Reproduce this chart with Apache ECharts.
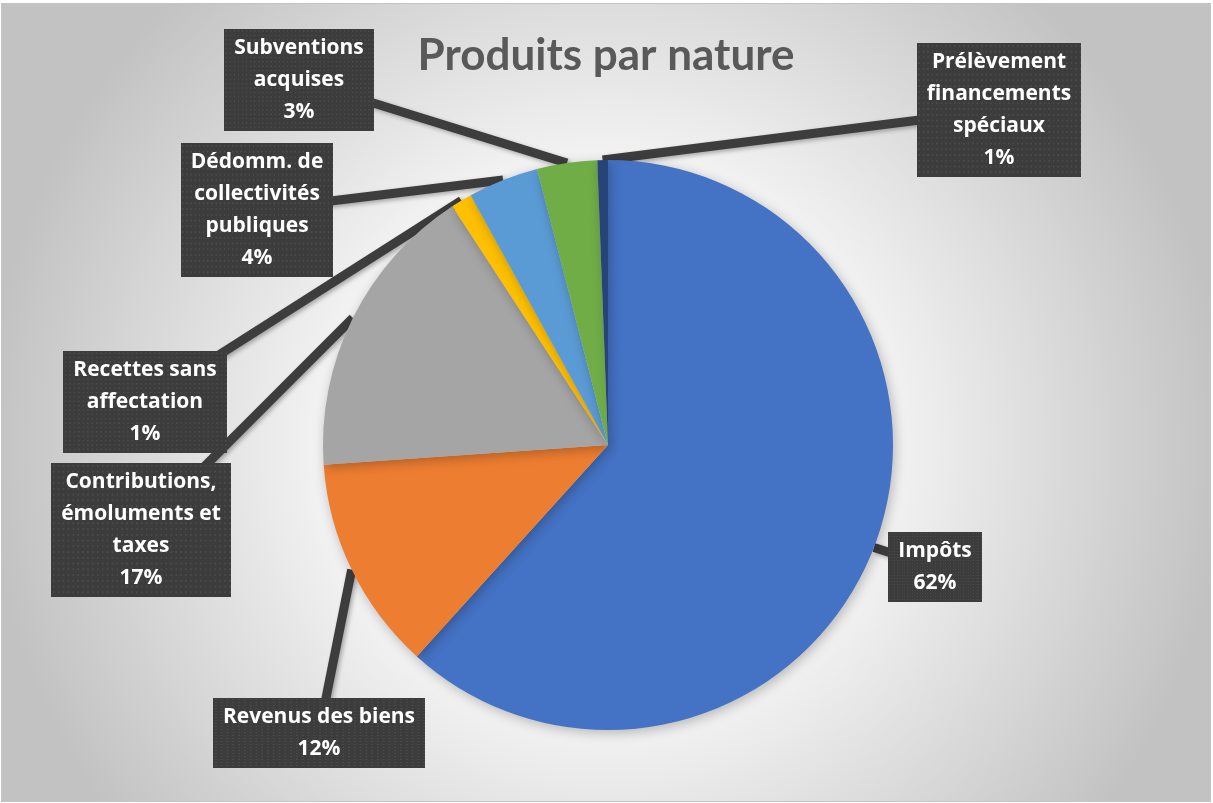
<!DOCTYPE html>
<html>
<head>
<meta charset="utf-8">
<script src="https://cdn.jsdelivr.net/npm/echarts@6/dist/echarts.min.js"></script>
<style>
  html, body { margin: 0; padding: 0; background: #ffffff; }
  #frame { position: absolute; left: 1px; top: 3px; width: 1208px; height: 797px; border: 1px solid #c4c4c4; }
  #chart { width: 1208px; height: 797px; }
</style>
</head>
<body>
<div id="frame"><div id="chart"></div></div>
<script>
// Revenue breakdown by nature (share of total, %)
const categories = [
  'Impôts',
  'Revenus des biens',
  'Contributions,\némoluments et\ntaxes',
  'Recettes sans\naffectation',
  'Dédomm. de\ncollectivités\npubliques',
  'Subventions\nacquises',
  'Prélèvement\nfinancements\nspéciaux'
];
const shares = [61.7, 12.2, 16.9, 1.2, 4.0, 3.4, 0.6];
const colors = ['#4472C4', '#ED7D31', '#A5A5A5', '#FFC000', '#5B9BD5', '#70AD47', '#264478'];

// Callout box centres (chart pixels)
const calloutCenters = [
  [933, 563],
  [317, 729],
  [139, 526],
  [143, 398],
  [255, 206],
  [297, 76],
  [997, 106]
];

const total = shares.reduce((a, b) => a + b, 0);

// Dark dotted fill used behind the callout text
function dottedTile() {
  const cv = document.createElement('canvas');
  cv.width = 220; cv.height = 140;
  const ctx = cv.getContext('2d');
  ctx.fillStyle = '#3c3c3c';
  ctx.fillRect(0, 0, cv.width, cv.height);
  ctx.fillStyle = '#4b4b4b';
  for (let y = 2; y < cv.height; y += 6) {
    for (let x = 2; x < cv.width; x += 6) {
      ctx.fillRect(x, y, 2, 2);
    }
  }
  return cv;
}
const boxFill = { image: dottedTile() };

const chart = echarts.init(document.getElementById('chart'), null, { renderer: 'canvas' });

chart.setOption({
  backgroundColor: {
    type: 'radial', x: 0.5, y: 0.55, r: 0.78,
    colorStops: [
      { offset: 0, color: '#ffffff' },
      { offset: 0.45, color: '#f3f3f3' },
      { offset: 1, color: '#c2c2c2' }
    ]
  },
  animation: false,
  title: {
    text: 'Produits par nature',
    left: 'center',
    top: 25,
    textStyle: { fontFamily: 'Lato', fontWeight: 'bold', fontSize: 44, color: '#595959' }
  },
  series: [{
    type: 'pie',
    center: [606, 441],
    radius: 285,
    startAngle: 90,
    clockwise: true,
    avoidLabelOverlap: false,
    silent: true,
    data: categories.map((name, i) => ({ name, value: shares[i], itemStyle: { color: colors[i] } })),
    itemStyle: {
      shadowBlur: 12,
      shadowColor: 'rgba(0,0,0,0.25)',
      shadowOffsetX: 2,
      shadowOffsetY: 3
    },
    label: {
      show: true,
      position: 'outside',
      formatter: p => p.name + '\n' + Math.round(p.value / total * 100) + '%',
      fontFamily: 'Open Sans',
      fontWeight: 'bold',
      fontSize: 21,
      lineHeight: 32,
      color: '#ffffff',
      align: 'center',
      backgroundColor: boxFill,
      padding: [3, 10, 3, 10],
      shadowBlur: 6,
      shadowOffsetX: 3,
      shadowOffsetY: 3,
      shadowColor: 'rgba(0,0,0,0.4)'
    },
    labelLine: {
      show: true,
      length: 10,
      length2: 10,
      lineStyle: {
        width: 9,
        color: '#3d3d3d',
        shadowBlur: 4,
        shadowOffsetX: 2,
        shadowOffsetY: 2,
        shadowColor: 'rgba(0,0,0,0.3)'
      }
    },
    labelLayout: function (params) {
      const c = calloutCenters[params.dataIndex];
      const pts = params.labelLinePoints;
      const tip = pts ? pts[0] : c;
      return {
        x: c[0],
        y: c[1],
        align: 'center',
        verticalAlign: 'middle',
        labelLinePoints: [tip, c, c]
      };
    },
    emphasis: { disabled: true }
  }]
});
</script>
</body>
</html>
